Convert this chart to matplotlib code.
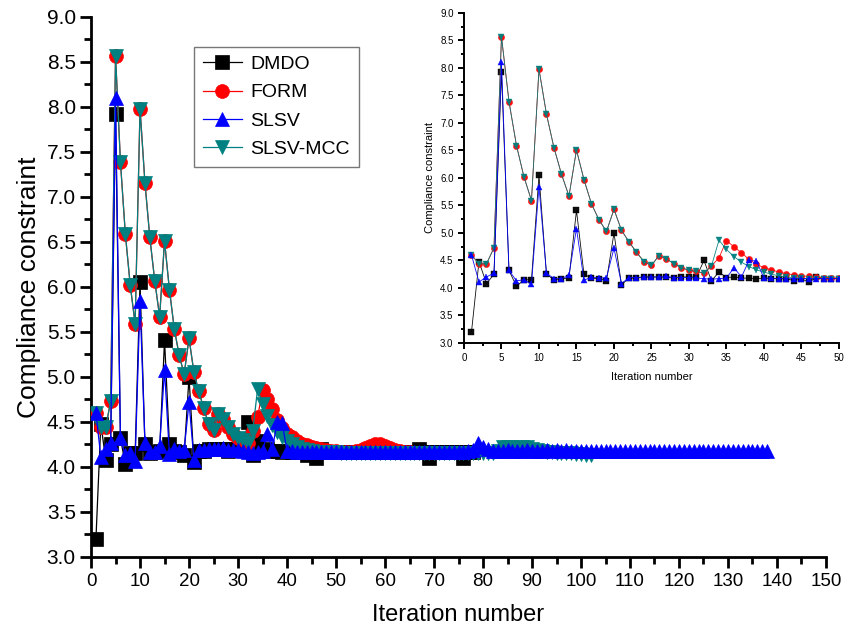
import numpy as np
import matplotlib
matplotlib.use("Agg")
import matplotlib.pyplot as plt
from matplotlib.ticker import MultipleLocator

plt.rcParams['font.family'] = ['Liberation Sans', 'DejaVu Sans']

# compliance constraint per iteration
dmdo = [3.20, 4.48, 4.08, 4.25, 7.92, 4.32, 4.03, 4.15, 4.15, 6.05,
        4.25, 4.15, 4.17, 4.18, 5.41, 4.25, 4.18, 4.17, 4.13, 5.00,
        4.06, 4.18, 4.18, 4.20, 4.20, 4.20, 4.20, 4.18, 4.20, 4.20,
        4.20, 4.50, 4.13, 4.29, 4.19, 4.20, 4.18, 4.18, 4.17, 4.18,
        4.17, 4.17, 4.17, 4.13, 4.17, 4.10, 4.20, 4.17, 4.17, 4.17,
        4.17, 4.17, 4.17, 4.17, 4.17, 4.17, 4.17, 4.17, 4.17, 4.17,
        4.17, 4.17, 4.17, 4.17, 4.17, 4.17, 4.20, 4.17, 4.10, 4.17,
        4.17, 4.17, 4.17, 4.17, 4.17, 4.10, 4.17, 4.17]

form = [4.60, 4.44, 4.44, 4.73, 8.57, 7.39, 6.59, 6.02, 5.59, 7.98,
        7.16, 6.55, 6.07, 5.67, 6.51, 5.97, 5.53, 5.24, 5.03, 5.43,
        5.05, 4.84, 4.65, 4.48, 4.41, 4.59, 4.53, 4.44, 4.37, 4.32,
        4.30, 4.27, 4.40, 4.55, 4.86, 4.75, 4.64, 4.52, 4.43, 4.37,
        4.33, 4.29, 4.26, 4.24, 4.22, 4.21, 4.20, 4.19, 4.18, 4.18,
        4.17, 4.17, 4.17, 4.18, 4.19, 4.21, 4.23, 4.25, 4.25, 4.23,
        4.21, 4.19, 4.18, 4.17, 4.17]

slsv = [4.60, 4.11, 4.20, 4.27, 8.10, 4.32, 4.13, 4.15, 4.07, 5.84,
        4.27, 4.17, 4.17, 4.23, 5.08, 4.14, 4.20, 4.18, 4.19, 4.72,
        4.08, 4.19, 4.19, 4.20, 4.20, 4.20, 4.21, 4.19, 4.19, 4.19,
        4.18, 4.17, 4.16, 4.17, 4.18, 4.37, 4.20, 4.50, 4.49, 4.18,
        4.18, 4.17, 4.17, 4.17, 4.17, 4.17, 4.17, 4.17, 4.17, 4.17,
        4.17, 4.17, 4.17, 4.17, 4.17, 4.17, 4.17, 4.17, 4.17, 4.17,
        4.17, 4.17, 4.17, 4.17, 4.17, 4.17, 4.17, 4.17, 4.17, 4.17,
        4.17, 4.17, 4.17, 4.17, 4.17, 4.17, 4.18, 4.19, 4.27, 4.22,
        4.20, 4.18, 4.18, 4.18, 4.19, 4.18, 4.18, 4.18, 4.19, 4.18,
        4.18, 4.18, 4.19, 4.18, 4.19, 4.18, 4.19, 4.18, 4.18, 4.18,
        4.18, 4.18, 4.18, 4.18, 4.18, 4.18, 4.18, 4.18, 4.18, 4.18,
        4.18, 4.18, 4.18, 4.18, 4.18, 4.18, 4.18, 4.18, 4.18, 4.18,
        4.18, 4.18, 4.18, 4.18, 4.18, 4.18, 4.18, 4.18, 4.18, 4.18,
        4.18, 4.18, 4.18, 4.18, 4.18, 4.18, 4.18, 4.18]

slsv_mcc = [4.60, 4.44, 4.44, 4.73, 8.57, 7.39, 6.59, 6.02, 5.59, 7.98,
            7.16, 6.55, 6.07, 5.67, 6.51, 5.97, 5.53, 5.24, 5.03, 5.43,
            5.05, 4.84, 4.65, 4.48, 4.41, 4.59, 4.53, 4.44, 4.37, 4.32,
            4.30, 4.27, 4.40, 4.87, 4.70, 4.57, 4.47, 4.39, 4.33, 4.29,
            4.25, 4.22, 4.20, 4.19, 4.18, 4.17, 4.17, 4.17, 4.17, 4.17,
            4.16, 4.16, 4.16, 4.16, 4.16, 4.16, 4.16, 4.16, 4.16, 4.16,
            4.16, 4.16, 4.16, 4.16, 4.16, 4.16, 4.16, 4.16, 4.16, 4.16,
            4.16, 4.16, 4.16, 4.16, 4.16, 4.16, 4.16, 4.16, 4.16, 4.16,
            4.16, 4.16, 4.18, 4.22, 4.22, 4.22, 4.21, 4.22, 4.22, 4.20,
            4.19, 4.18, 4.17, 4.17, 4.16, 4.16, 4.15, 4.15, 4.14, 4.14,
            4.13, 4.13]

series = [("DMDO", dmdo, "black", "s", 2),
          ("FORM", form, "red", "o", 3),
          ("SLSV", slsv, "blue", "^", 5),
          ("SLSV-MCC", slsv_mcc, "#008080", "v", 4)]

fig = plt.figure(figsize=(8.54, 6.34), dpi=100)
ax = fig.add_axes([0.1066, 0.1215, 0.8606, 0.8517])


def style_axes(a, lw, maj, mnr, fs):
    for s in ("top", "right"):
        a.spines[s].set_visible(False)
    for s in ("left", "bottom"):
        a.spines[s].set_linewidth(lw)
    a.tick_params(which="major", direction="out", length=maj, width=lw, labelsize=fs)
    a.tick_params(which="minor", direction="out", length=mnr, width=lw)


handles = []
for name, vals, col, mk, z in series:
    it = np.arange(1, len(vals) + 1)
    h, = ax.plot(it, vals, color=col, lw=0.9, marker=mk, markersize=10,
                 markeredgewidth=0.5, markeredgecolor=col, zorder=z, label=name)
    handles.append(h)

ax.set_xlim(0, 150)
ax.set_ylim(3.0, 9.0)
ax.xaxis.set_major_locator(MultipleLocator(10))
ax.xaxis.set_minor_locator(MultipleLocator(5))
ax.yaxis.set_major_locator(MultipleLocator(0.5))
ax.yaxis.set_minor_locator(MultipleLocator(0.25))
ax.yaxis.set_major_formatter(plt.FormatStrFormatter("%.1f"))
style_axes(ax, 2.0, 8, 5, 15)
ax.tick_params(axis="x", labelsize=13.5)
ax.tick_params(axis="y", pad=3)
ax.set_xlabel("Iteration number", fontsize=17, labelpad=10)
ax.set_ylabel("Compliance constraint", fontsize=19, labelpad=4)

leg = ax.legend(handles=handles, loc="upper left", bbox_to_anchor=(0.14, 0.945),
                fontsize=14, frameon=True, fancybox=False, edgecolor="#555555",
                handlelength=2.0, borderpad=0.45, labelspacing=0.55,
                handletextpad=0.45, borderaxespad=0)
leg.get_frame().set_linewidth(1.0)

# inset with the first 50 iterations
ins = fig.add_axes([0.5433, 0.459, 0.4391, 0.5205])
for name, vals, col, mk, z in series:
    it = np.arange(1, len(vals) + 1)
    ins.plot(it, vals, color=col, lw=0.6, marker=mk, markersize=4.5,
             markeredgewidth=0.3, markeredgecolor=col, zorder=z, alpha=0.95)
ins.set_xlim(0, 50)
ins.set_ylim(3.0, 9.0)
ins.xaxis.set_major_locator(MultipleLocator(5))
ins.xaxis.set_minor_locator(MultipleLocator(2.5))
ins.yaxis.set_major_locator(MultipleLocator(0.5))
ins.yaxis.set_minor_locator(MultipleLocator(0.25))
ins.yaxis.set_major_formatter(plt.FormatStrFormatter("%.1f"))
style_axes(ins, 1.4, 4, 2.5, 7)
ins.set_xlabel("Iteration number", fontsize=8, labelpad=6)
ins.set_ylabel("Compliance constraint", fontsize=8, labelpad=4)
ins.patch.set_alpha(0)

fig.savefig("out.png", dpi=100)
